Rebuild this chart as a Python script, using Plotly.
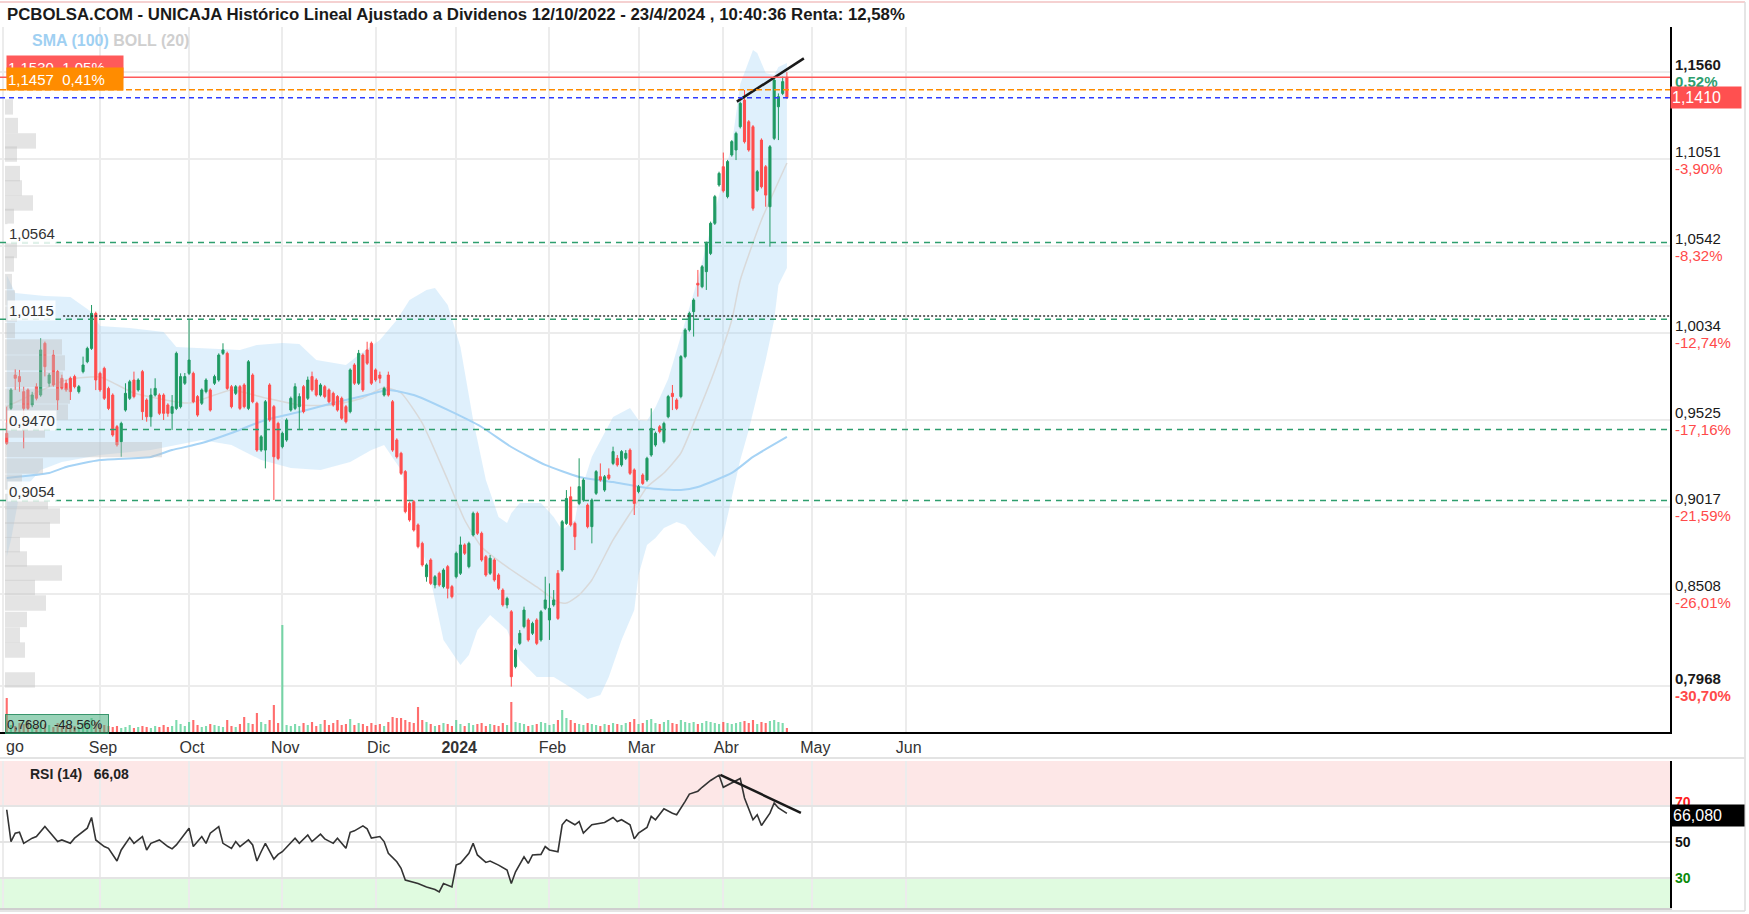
import numpy as np
import pandas as pd
import plotly.graph_objects as go

W, H = 1749, 914
FONT = "Liberation Sans, Arial, Helvetica, sans-serif"

# ---------------- trading calendar (BME) ----------------
holidays = ["2023-12-25", "2023-12-26", "2024-01-01", "2024-03-29", "2024-04-01", "2024-05-01"]
calendar = pd.bdate_range("2023-08-01", "2024-07-31")
calendar = calendar[~calendar.isin(pd.to_datetime(holidays))]

# ---------------- daily candles (2 Aug 2023 .. 23 Apr 2024) ----------------
opens = [
    .9447, .9593, .9788, .9779, .9691, .9701, .9613, .9720, .9671, .9974,
    .9740, .9905, .9808, .9769, .9740, .9769, .9779, .9691, .9808, .9866,
    .9944, 1.0149, .9798, .9827, .9710, .9671, .9486, .9398, .9583, .9652,
    .9759, .9701, .9808, .9642, .9544, .9671, .9671, .9671, .9613, .9564,
    .9593, .9603, .9740, .9798, .9798, .9662, .9623, .9691, .9701, .9740,
    .9759, .9915, .9915, .9720, .9681, .9720, .9730, .9593, .9788, .9623,
    .9349, .9349, .9730, .9603, .9505, .9369, .9408, .9583, .9593, .9603,
    .9720, .9652, .9779, .9759, .9671, .9720, .9701, .9681, .9662, .9652,
    .9603, .9574, .9847, .9740, .9905, .9935, .9974, .9818, .9788, .9671,
    .9788, .9632, .9408, .9330, .9223, .9037, .9047, .8911, .8803, .8608,
    .8706, .8560, .8628, .8550, .8667, .8550, .8608, .8628, .8794, .8667,
    .8852, .8979, .8862, .8725, .8628, .8706, .8618, .8530, .8443, .8403,
    .8082, .8218, .8316, .8355, .8277, .8355, .8238, .8423, .8355, .8443,
    .8628, .8647, .8920, .9076, .8920, .9037, .9057, .9027, .8901, .9096,
    .9193, .9115, .9203, .9271, .9301, .9262, .9301, .9349, .9233, .9106,
    .9203, .9174, .9320, .9379, .9486, .9398, .9544, .9681, .9642, .9662,
    .9896, 1.0052, 1.0159, 1.0325, 1.0305, 1.0393, 1.0500, 1.0676, 1.0900, 1.1007,
    1.0832, 1.1076, 1.1105, 1.1241, 1.1397, 1.1270, 1.1241, 1.0870, 1.1163, 1.1007,
    1.0773, 1.1173, 1.1358, 1.1436, 1.1530,
]
highs = [
    .9603, .9711, .9822, .9818, .9720, .9710, .9690, .9740, 1.0003, .9984,
    .9800, .9935, .9818, .9790, .9760, .9779, .9790, .9730, .9896, .9954,
    1.0198, 1.0159, .9808, .9837, .9720, .9681, .9496, .9515, .9740, .9760,
    .9808, .9769, .9818, .9652, .9710, .9769, .9681, .9681, .9623, .9671,
    .9925, .9798, .9800, 1.0110, .9808, .9671, .9710, .9769, .9710, .9790,
    .9915, .9974, .9925, .9730, .9730, .9730, .9740, .9876, .9798, .9632,
    .9437, .9642, .9740, .9613, .9515, .9457, .9535, .9662, .9740, .9681,
    .9730, .9779, .9808, .9769, .9740, .9730, .9710, .9691, .9671, .9662,
    .9613, .9827, .9857, .9935, .9915, .9983, .9984, .9827, .9808, .9720,
    .9808, .9642, .9418, .9339, .9232, .9047, .9057, .8920, .8813, .8686,
    .8716, .8618, .8638, .8657, .8677, .8560, .8755, .8843, .8803, .8813,
    .8989, .8989, .8872, .8735, .8735, .8716, .8628, .8540, .8491, .8413,
    .8189, .8296, .8433, .8365, .8345, .8365, .8413, .8608, .8569, .8530,
    .8647, .8940, .9115, .9135, .8930, .9301, .9184, .9037, .9066, .9232,
    .9271, .9203, .9242, .9369, .9320, .9349, .9349, .9359, .9242, .9145,
    .9213, .9310, .9593, .9457, .9496, .9515, .9672, .9730, .9652, .9905,
    1.0062, 1.0159, 1.0237, 1.0403, 1.0432, 1.0569, 1.0686, 1.0842, 1.0978, 1.1090,
    1.1047, 1.1163, 1.1212, 1.1388, 1.1456, 1.1280, 1.1251, 1.0988, 1.1173, 1.1017,
    1.1134, 1.1524, 1.1436, 1.1534, 1.1560,
]
lows = [
    .9379, .9583, .9700, .9690, .9359, .9583, .9600, .9640, .9661, .9780,
    .9720, .9720, .9583, .9700, .9690, .9642, .9710, .9680, .9798, .9857,
    .9935, .9700, .9690, .9642, .9583, .9427, .9369, .9310, .9574, .9642,
    .9652, .9691, .9525, .9515, .9486, .9662, .9554, .9525, .9544, .9466,
    .9583, .9593, .9730, .9788, .9623, .9544, .9613, .9681, .9574, .9730,
    .9749, .9905, .9701, .9593, .9671, .9583, .9593, .9583, .9623, .9339,
    .9339, .9242, .9515, .9057, .9290, .9359, .9398, .9574, .9583, .9466,
    .9564, .9642, .9691, .9662, .9662, .9652, .9623, .9603, .9574, .9525,
    .9505, .9564, .9730, .9730, .9690, .9847, .9730, .9749, .9740, .9662,
    .9662, .9339, .9300, .9203, .8979, .8930, .8872, .8774, .8667, .8579,
    .8559, .8540, .8550, .8540, .8481, .8481, .8598, .8618, .8735, .8657,
    .8843, .8852, .8696, .8608, .8618, .8579, .8530, .8433, .8423, .7965,
    .8072, .8208, .8306, .8228, .8267, .8208, .8228, .8413, .8238, .8433,
    .8355, .8637, .8911, .8901, .8764, .9027, .9047, .8891, .8803, .9086,
    .9164, .9105, .9174, .9261, .9252, .9252, .9291, .9203, .8969, .9096,
    .9145, .9164, .9310, .9369, .9447, .9388, .9535, .9583, .9583, .9652,
    .9886, 1.0042, 1.0013, 1.0247, 1.0296, 1.0286, 1.0490, 1.0666, 1.0890, 1.0856,
    1.0822, 1.1066, 1.1046, 1.1231, 1.1143, 1.1095, 1.0750, 1.0860, 1.0880, 1.0773,
    1.0539, 1.1163, 1.1163, 1.1426, 1.1405,
]
closes = [
    .9388, .9701, .9769, .9749, .9593, .9593, .9671, .9652, .9935, .9837,
    .9788, .9730, .9642, .9710, .9701, .9691, .9720, .9720, .9847, .9944,
    1.0149, .9759, .9701, .9652, .9593, .9437, .9379, .9505, .9681, .9749,
    .9662, .9759, .9574, .9544, .9671, .9710, .9564, .9564, .9564, .9603,
    .9915, .9779, .9779, .9876, .9632, .9554, .9701, .9759, .9583, .9779,
    .9905, .9935, .9710, .9603, .9720, .9593, .9603, .9866, .9632, .9349,
    .9427, .9632, .9525, .9310, .9300, .9447, .9525, .9652, .9720, .9662,
    .9574, .9759, .9701, .9671, .9730, .9662, .9632, .9613, .9583, .9535,
    .9515, .9818, .9740, .9915, .9701, .9857, .9740, .9759, .9769, .9710,
    .9671, .9349, .9310, .9213, .8989, .8940, .8881, .8784, .8677, .8677,
    .8569, .8608, .8560, .8647, .8540, .8491, .8745, .8794, .8745, .8803,
    .8979, .8862, .8706, .8618, .8716, .8589, .8540, .8443, .8481, .8023,
    .8179, .8277, .8413, .8238, .8335, .8218, .8403, .8472, .8423, .8472,
    .8364, .8930, .9066, .8911, .8842, .9135, .9174, .8901, .9057, .9223,
    .9174, .9193, .9184, .9340, .9262, .9340, .9330, .9213, .9037, .9135,
    .9154, .9301, .9476, .9447, .9457, .9505, .9662, .9662, .9593, .9896,
    1.0052, 1.0149, 1.0227, 1.0315, 1.0422, 1.0559, 1.0676, 1.0832, 1.0968, 1.0866,
    1.1037, 1.1154, 1.1202, 1.1378, 1.1153, 1.1105, 1.0764, 1.0978, 1.0890, 1.0841,
    1.1124, 1.1514, 1.1417, 1.1505, 1.1410,
]
volumes = [
    34, 7, 6, 9, 8, 12, 7, 6, 10, 8, 7, 5, 9, 6, 7, 8, 6, 5, 9, 11, 14, 10, 8, 7, 6,
    5, 6, 4, 5, 7, 4, 5, 6, 5, 4, 6, 5, 7, 5, 6,
    12, 8, 6, 10, 12, 7, 5, 6, 8, 7, 6, 5, 12, 6, 5, 8, 15, 9, 8, 19, 10, 8, 12, 27, 9,
    107, 7, 6, 8, 6, 9, 7, 10, 6, 8, 12, 7, 9, 12, 7, 8, 13, 7, 9, 8, 6, 9, 7, 8, 6,
    10, 15, 14, 14, 12, 10, 9, 25, 12, 10, 8, 6, 7, 9, 8, 6, 12, 8, 6, 9, 7, 8, 9, 6, 8,
    7, 6, 9, 7, 30, 10, 9, 8, 6, 7, 8, 10, 9, 7, 8, 12, 22, 14, 12, 9, 8, 7, 9, 8, 7,
    6, 8, 7, 9, 8, 7, 9, 10, 13, 8, 9, 12, 13, 9, 8, 10, 12, 9, 8, 12, 10, 9, 10, 8, 9,
    11, 10, 9, 8, 10, 9, 8, 9, 10, 11, 9, 12, 8, 10, 9, 11, 12, 10, 9, 4,
]
assert len(opens) == len(highs) == len(lows) == len(closes) == len(volumes) == 185
pos = list(range(1, len(closes) + 1))          # position in the trading calendar
dates = calendar[1:len(closes) + 1]

# ---------------- indicators ----------------
bb_upper_pos = [1, 3, 10, 16, 21, 23, 30, 38, 41, 56, 60, 66, 70, 74, 81, 84, 89, 93, 96, 100,
                102, 105, 108, 111, 114, 117, 119, 120, 122, 127, 130, 132, 135, 136, 139, 144, 148, 150, 152, 154,
                157, 161, 164, 168, 172, 174, 177, 178, 180, 182, 183, 185]
bb_upper_val = [1.0373, 1.0268, 1.0250, 1.0245, 1.0157, 1.0075, 1.0063, 1.0040, 0.9952, 0.9935,
                0.9964, 0.9976, 0.9970, 0.9876, 0.9847, 0.9905, 0.9993, 1.0110, 1.0227, 1.0286,
                1.0297, 1.0198, 0.9952, 0.9525, 0.9174, 0.8958, 0.8922, 0.8980, 0.9040, 0.9040,
                0.8958, 0.8880, 0.8940, 0.9074, 0.9310, 0.9543, 0.9595, 0.9525, 0.9520, 0.9600,
                0.9765, 1.0093, 1.0350, 1.0742, 1.1134, 1.1491, 1.1690, 1.1672, 1.1555, 1.1544,
                1.1590, 1.1614]
bb_lower_pos = [1, 2, 4, 9, 14, 23, 35, 47, 54, 61, 68, 75, 82, 87, 90, 94, 97, 101, 104, 108,
                110, 112, 115, 119, 122, 126, 130, 135, 138, 141, 143, 146, 149, 150, 152, 154, 156, 159, 161, 163,
                166, 168, 170, 172, 174, 176, 178, 180, 182, 183, 185]
bb_lower_val = [0.8723, 0.8823, 0.9092, 0.9232, 0.9279, 0.9320, 0.9349, 0.9408, 0.9379, 0.9291,
                0.9244, 0.9232, 0.9279, 0.9349, 0.9379, 0.9232, 0.8940, 0.8589, 0.8238, 0.8091,
                0.8150, 0.8296, 0.8384, 0.8296, 0.8121, 0.8021, 0.8021, 0.7945, 0.7892, 0.7916,
                0.8021, 0.8238, 0.8413, 0.8618, 0.8794, 0.8835, 0.8893, 0.8928, 0.8911, 0.8852,
                0.8776, 0.8723, 0.8852, 0.9074, 0.9291, 0.9466, 0.9671, 0.9876, 1.0110, 1.0315,
                1.0414]
bb_mid_pos = [1, 15, 23, 31, 44, 50, 54, 62, 70, 78, 85, 90, 94, 99, 105, 109, 113, 119, 126, 131,
              133, 136, 139, 144, 149, 152, 156, 160, 164, 168, 172, 174, 179, 185]
bb_mid_val = [0.9603, 0.9759, 0.9777, 0.9683, 0.9624, 0.9671, 0.9700, 0.9654, 0.9613, 0.9613,
              0.9654, 0.9715, 0.9683, 0.9507, 0.9174, 0.8940, 0.8782, 0.8665, 0.8548, 0.8460,
              0.8454, 0.8501, 0.8589, 0.8823, 0.9016, 0.9133, 0.9215, 0.9332, 0.9566, 0.9818,
              1.0110, 1.0344, 1.0695, 1.1029]
sma100_pos = [1, 11, 15, 23, 35, 40, 47, 54, 62, 70, 78, 86, 91, 97, 105, 113, 120, 128, 136, 144,
              152, 160, 164, 172, 177, 185]
sma100_val = [0.9186, 0.9215, 0.9250, 0.9291, 0.9309, 0.9349, 0.9390, 0.9449, 0.9525, 0.9572,
              0.9624, 0.9671, 0.9700, 0.9671, 0.9584, 0.9484, 0.9367, 0.9262, 0.9192, 0.9162,
              0.9127, 0.9115, 0.9133, 0.9215, 0.9309, 0.9426]

rsi_pos = [1, 2, 3, 4, 5, 7, 8, 10, 11, 13, 14, 16, 17, 18, 20, 21, 22, 24, 25, 27,
           28, 30, 31, 33, 34, 35, 37, 39, 40, 41, 43, 44, 45, 47, 48, 49, 51, 52, 54, 55,
           56, 58, 59, 60, 61, 62, 64, 65, 66, 68, 69, 70, 72, 73, 75, 76, 78, 79, 81, 82,
           83, 85, 86, 87, 89, 90, 91, 93, 94, 95, 98, 100, 102, 103, 104, 106, 107, 108, 110, 111,
           112, 114, 115, 117, 119, 120, 121, 123, 124, 125, 127, 128, 129, 131, 132, 133, 135, 136, 137, 139,
           141, 142, 144, 145, 146, 148, 149, 150, 152, 153, 154, 156, 158, 159, 161, 162, 164, 165, 167, 169,
           170, 172, 174, 175, 177, 178, 179, 181, 182, 183, 185]
rsi_val = [68.1, 50.3, 55.0, 55.5, 49.3, 52.2, 53.1, 58.7, 55.9, 50.3, 51.2, 49.3, 52.2, 54.0, 57.8, 63.8, 51.2, 47.5, 46.5, 39.4,
           45.6, 52.5, 49.3, 53.1, 45.6, 49.3, 51.2, 47.5, 46.2, 48.4, 55.0, 57.8, 47.5, 53.1, 49.3, 55.0, 58.7, 49.3, 46.5, 50.3,
           47.5, 51.2, 48.4, 39.4, 44.6, 49.3, 40.5, 43.1, 44.6, 49.3, 52.2, 49.3, 54.0, 50.3, 54.4, 51.8, 49.3, 52.2, 46.5, 55.5,
           56.3, 59.1, 57.4, 52.2, 53.1, 50.3, 43.7, 39.0, 35.3, 28.7, 26.8, 24.9, 23.4, 22.1, 26.8, 24.9, 37.1, 38.1, 43.7, 49.3,
           42.8, 38.6, 39.4, 37.1, 34.3, 26.8, 33.4, 41.8, 38.1, 42.8, 43.1, 47.5, 45.6, 44.6, 59.7, 62.5, 59.7, 61.5, 55.0, 59.7,
           60.6, 61.0, 63.8, 61.5, 62.5, 59.7, 51.8, 55.0, 58.2, 64.4, 62.5, 68.7, 66.2, 65.3, 72.8, 76.9, 78.5, 80.7, 84.5, 87.5,
           80.7, 83.1, 85.6, 74.7, 62.5, 65.3, 59.3, 66.2, 71.9, 69.1, 66.08]
assert len(rsi_pos) == len(rsi_val)

# volume-at-price profile (left edge)
profile_price = [1.1357, 1.1248, 1.1158, 1.1081, 1.0967, 1.0883, 1.0795, 1.0716, 1.0517, 1.0438,
                 1.0335, 1.0239, 1.0145, 1.0049, 0.9952, 0.9859, 0.9762, 0.9665, 0.9572, 0.9466,
                 0.9352, 0.9256, 0.9162, 0.9048, 0.8963, 0.8881, 0.8796, 0.8712, 0.8630, 0.8545,
                 0.8454, 0.8358, 0.8267, 0.8179, 0.8004]
profile_size = [8, 13, 31, 12, 15, 17, 28, 9, 12, 9, 7, 10, 12, 10, 57, 60, 58, 65, 63, 40,
                157, 38, 17, 43, 55, 45, 15, 22, 57, 30, 41, 22, 15, 20, 30]

# reference levels and drawn lines
support_levels = [1.0564, 1.0115, 0.9470, 0.9054]
support_labels = ["1,0564", "1,0115", "0,9470", "0,9054"]
resistance_dotted = 1.0134
stop_level, target_level, last_level = 1.1530, 1.1457, 1.1410
price_trend_x, price_trend_y = [173.2, 189.0], [1.1388, 1.1641]
rsi_trend_x, rsi_trend_y = [169.3, 188.3], [87.6, 66.4]

right_levels = [1.1560, 1.1051, 1.0542, 1.0034, 0.9525, 0.9017, 0.8508, 0.7968]
right_price_text = ["1,1560", "1,1051", "1,0542", "1,0034", "0,9525", "0,9017", "0,8508", "0,7968"]
right_pct_text = ["0,52%", "-3,90%", "-8,32%", "-12,74%", "-17,16%", "-21,59%", "-26,01%", "-30,70%"]
# first month ("Ago") is cut by the left edge in the original, only "go" shows
month_labels = ["", "Sep", "Oct", "Nov", "Dic", "<b>2024</b>", "Feb", "Mar", "Abr", "May", "Jun"]

month_start_pos = []
_seen = set()
for k, d in enumerate(calendar):
    if (d.year, d.month) not in _seen:
        _seen.add((d.year, d.month))
        month_start_pos.append(k)
month_start_pos = month_start_pos[:len(month_labels)]

# ---------------- geometry ----------------
def xp(px):
    return px / W

def yp(py):
    return 1 - py / H

PLOT_R = 1670
XD = PLOT_R / W
X0, DX = 2.5, 4.24
XR = [-X0 / DX, (PLOT_R - X0) / DX]
YM = [yp(732), yp(27)]
YR = [0.76994, 1.18246]
YRSI = [yp(908), yp(761)]

GREEN = "#1f9a63"
RED = "#ff4d4d"

fig = go.Figure()

# Bollinger band fill + lines (base subplot)
fig.add_trace(go.Scatter(x=bb_upper_pos, y=bb_upper_val, mode="lines", line=dict(width=0, color="rgba(0,0,0,0)"),
                         hoverinfo="skip", xaxis="x", yaxis="y"))
fig.add_trace(go.Scatter(x=bb_lower_pos, y=bb_lower_val, mode="lines", line=dict(width=0, color="rgba(0,0,0,0)"),
                         fill="tonexty", fillcolor="rgba(150,204,245,0.30)", hoverinfo="skip", xaxis="x", yaxis="y"))
fig.add_trace(go.Scatter(x=bb_mid_pos, y=bb_mid_val, mode="lines", line=dict(width=1.5, color="#d9d9d9", shape="spline", smoothing=0.5),
                         hoverinfo="skip", xaxis="x", yaxis="y"))
fig.add_trace(go.Scatter(x=sma100_pos, y=sma100_val, mode="lines", line=dict(width=2, color="#a6d3f5", shape="spline", smoothing=0.5),
                         hoverinfo="skip", xaxis="x", yaxis="y"))

# volume profile
fig.add_trace(go.Bar(x=profile_size, y=profile_price, orientation="h", width=0.0090, base=0,
                     marker=dict(color="rgba(190,190,190,0.42)", line=dict(width=0)),
                     hoverinfo="skip", xaxis="x5", yaxis="y"))

# volume bars
vol_colors = ["rgba(40,195,120,0.60)" if c >= o else "rgba(255,60,60,0.75)" for o, c in zip(opens, closes)]
fig.add_trace(go.Bar(x=pos, y=volumes, width=0.5, marker=dict(color=vol_colors, line=dict(width=0)),
                     hoverinfo="skip", xaxis="x", yaxis="y3"))

# candles
fig.add_trace(go.Candlestick(x=pos, open=opens, high=highs, low=lows, close=closes,
                             increasing=dict(line=dict(color=GREEN, width=1), fillcolor=GREEN),
                             decreasing=dict(line=dict(color=RED, width=1), fillcolor=RED),
                             whiskerwidth=0, xaxis="x", yaxis="y4", hovertext=[d.strftime("%d/%m/%Y") for d in dates]))
fig.add_trace(go.Scatter(x=price_trend_x, y=price_trend_y, mode="lines", line=dict(color="#1a1a1a", width=2.5),
                         hoverinfo="skip", xaxis="x", yaxis="y4"))

# RSI
fig.add_trace(go.Scatter(x=rsi_pos, y=rsi_val, mode="lines", line=dict(color="#333333", width=1.6),
                         hoverinfo="skip", xaxis="x2", yaxis="y2"))
fig.add_trace(go.Scatter(x=rsi_trend_x, y=rsi_trend_y, mode="lines", line=dict(color="#1a1a1a", width=2.5),
                         hoverinfo="skip", xaxis="x2", yaxis="y2"))

shapes = []
# RSI zones
shapes.append(dict(type="rect", xref="x2 domain", yref="y2", x0=0, x1=1, y0=70, y1=95.4,
                   fillcolor="#fde7e7", line=dict(width=0), layer="below"))
shapes.append(dict(type="rect", xref="x2 domain", yref="y2", x0=0, x1=1, y0=13.1, y1=30,
                   fillcolor="#e0fbe0", line=dict(width=0), layer="below"))
# level lines
for lv in support_levels:
    shapes.append(dict(type="line", xref="x domain", yref="y", x0=0, x1=1, y0=lv, y1=lv,
                       line=dict(color="#2e9e6e", width=1.5, dash="6px,5px"), layer="above"))
shapes.append(dict(type="line", xref="x", yref="y", x0=14.3, x1=XR[1], y0=resistance_dotted, y1=resistance_dotted,
                   line=dict(color="#333333", width=1.5, dash="2px,2px"), layer="above"))
shapes.append(dict(type="line", xref="x domain", yref="y", x0=0, x1=1, y0=stop_level, y1=stop_level,
                   line=dict(color="#ff5a5a", width=1.5), layer="above"))
shapes.append(dict(type="line", xref="x domain", yref="y", x0=0, x1=1, y0=target_level, y1=target_level,
                   line=dict(color="#ff8c00", width=1.5, dash="6px,3px"), layer="above"))
shapes.append(dict(type="line", xref="x domain", yref="y", x0=0, x1=1, y0=last_level, y1=last_level,
                   line=dict(color="#2f3cff", width=1.5, dash="5px,4px"), layer="above"))
# frame lines
shapes.append(dict(type="line", xref="paper", yref="paper", x0=0, x1=xp(1745), y0=yp(2), y1=yp(2),
                   line=dict(color="#f2c2c2", width=1.5)))
shapes.append(dict(type="line", xref="paper", yref="paper", x0=xp(1745), x1=xp(1745), y0=yp(2), y1=yp(911),
                   line=dict(color="#dddddd", width=1.5)))
shapes.append(dict(type="line", xref="paper", yref="paper", x0=0, x1=xp(1745), y0=yp(758), y1=yp(758),
                   line=dict(color="#e3e3e3", width=2)))
shapes.append(dict(type="line", xref="paper", yref="paper", x0=0, x1=xp(1745), y0=yp(911), y1=yp(911),
                   line=dict(color="#dddddd", width=1.5)))

ann = []
ann.append(dict(xref="paper", yref="paper", x=xp(5), y=yp(15), xanchor="left", yanchor="middle", showarrow=False,
                text="<b>PCBOLSA.COM - UNICAJA Histórico Lineal Ajustado a Dividenos 12/10/2022 - 23/4/2024 , 10:40:36 Renta: 12,58%</b>",
                font=dict(family=FONT, size=16.8, color="#1a1a1a")))
ann.append(dict(xref="paper", yref="paper", x=xp(30), y=yp(40), xanchor="left", yanchor="middle", showarrow=False,
                text="<b><span style='color:#9fd0f2'>SMA (100)</span> <span style='color:#cfcfcf'>BOLL (20)</span></b>",
                font=dict(family=FONT, size=16)))
# cut-off first month label
ann.append(dict(xref="paper", yref="paper", x=xp(4), y=yp(746), xanchor="left", yanchor="middle", showarrow=False,
                text="go", font=dict(family=FONT, size=16, color="#333333")))
# left colored labels
ann.append(dict(xref="paper", yref="paper", x=xp(6), y=yp(67), xanchor="left", yanchor="middle", showarrow=False,
                text="1,1530  1,05%", bgcolor="#ff5a5a", width=114, height=20, align="left",
                font=dict(family=FONT, size=15, color="white")))
ann.append(dict(xref="paper", yref="paper", x=xp(6), y=yp(79), xanchor="left", yanchor="middle", showarrow=False,
                text="1,1457  0,41%", bgcolor="#ff8c00", width=114, height=20, align="left",
                font=dict(family=FONT, size=15, color="white")))
for lv, tx in zip(support_levels, support_labels):
    ann.append(dict(xref="paper", yref="y", x=xp(7), y=lv, yshift=9, xanchor="left", yanchor="middle", showarrow=False,
                    text=tx, bgcolor="rgba(255,255,255,0.85)", font=dict(family=FONT, size=15, color="#333333")))
ann.append(dict(xref="paper", yref="paper", x=xp(5), y=yp(724), xanchor="left", yanchor="middle", showarrow=False,
                text="0,7680  -48,56%", bgcolor="rgba(70,175,125,0.55)", bordercolor="rgba(40,140,95,0.9)", borderwidth=1,
                width=100, height=16, align="left", font=dict(family=FONT, size=13, color="#222222")))
# right axis labels
for k, (lv, ptx, pct) in enumerate(zip(right_levels, right_price_text, right_pct_text)):
    bold = k in (0, len(right_levels) - 1)
    pcol = "#2e9e6e" if k == 0 else "#ff4a4a"
    ann.append(dict(xref="paper", yref="y", x=xp(1673), y=lv, yshift=8, xanchor="left", yanchor="middle", showarrow=False,
                    text=f"<b>{ptx}</b>" if bold else ptx, font=dict(family=FONT, size=15, color="#1a1a1a")))
    ann.append(dict(xref="paper", yref="y", x=xp(1673), y=lv, yshift=-9, xanchor="left", yanchor="middle", showarrow=False,
                    text=f"<b>{pct}</b>" if bold else pct, font=dict(family=FONT, size=15, color=pcol)))
ann.append(dict(xref="paper", yref="y", x=xp(1670), y=last_level, xanchor="left", yanchor="middle", showarrow=False,
                text="1,1410", bgcolor="#ff5050", width=68, height=19, align="left",
                font=dict(family=FONT, size=16, color="white")))
# RSI labels
ann.append(dict(xref="paper", yref="paper", x=xp(28), y=yp(774), xanchor="left", yanchor="middle", showarrow=False,
                text="<b>RSI (14)\u00a0\u00a0\u00a066,08</b>", font=dict(family=FONT, size=14, color="#222222")))
ann.append(dict(xref="paper", yref="y2", x=xp(1673), y=70, yshift=4, xanchor="left", yanchor="middle", showarrow=False,
                text="<b>70</b>", font=dict(family=FONT, size=14, color="#ff2020")))
ann.append(dict(xref="paper", yref="paper", x=xp(1671), y=yp(815), xanchor="left", yanchor="middle", showarrow=False,
                text="66,080", bgcolor="black", width=70, height=19, align="left",
                font=dict(family=FONT, size=16, color="white")))
ann.append(dict(xref="paper", yref="y2", x=xp(1673), y=50, xanchor="left", yanchor="middle", showarrow=False,
                text="<b>50</b>", font=dict(family=FONT, size=14, color="#111111")))
ann.append(dict(xref="paper", yref="y2", x=xp(1673), y=30, xanchor="left", yanchor="middle", showarrow=False,
                text="<b>30</b>", font=dict(family=FONT, size=14, color="#0a8a0a")))

grid_col = "#ececec"
fig.update_layout(
    width=W, height=H, autosize=False,
    margin=dict(l=0, r=0, t=0, b=0, pad=0),
    paper_bgcolor="white", plot_bgcolor="white", showlegend=False,
    xaxis=dict(domain=[0, XD], range=XR, tickvals=month_start_pos, ticktext=month_labels,
               showgrid=True, gridcolor=grid_col, gridwidth=2, showline=True, linecolor="black", linewidth=2,
               ticks="", tickfont=dict(family=FONT, size=16, color="#333333"), zeroline=False,
               rangeslider=dict(visible=False), anchor="y", ticklabelshift=3, automargin=False),
    yaxis=dict(domain=YM, range=YR, side="right", tickvals=right_levels, showticklabels=False,
               showgrid=True, gridcolor=grid_col, gridwidth=2, showline=True, linecolor="black", linewidth=2,
               zeroline=False, anchor="x", ticks="", automargin=False),
    yaxis3=dict(overlaying="y", range=[0, 705], visible=False, anchor="x"),
    yaxis4=dict(overlaying="y", range=YR, visible=False, anchor="x"),
    xaxis5=dict(overlaying="x", range=[-5, PLOT_R - 5], visible=False, anchor="y"),
    xaxis2=dict(domain=[0, XD], matches="x", anchor="y2", tickvals=month_start_pos, showticklabels=False,
                showgrid=True, gridcolor=grid_col, gridwidth=2, showline=True, linecolor="#cfcfcf", linewidth=2,
                zeroline=False, ticks="", rangeslider=dict(visible=False), automargin=False),
    yaxis2=dict(domain=YRSI, range=[13.1, 95.4], side="right", anchor="x2", tickvals=[30, 50, 70],
                showticklabels=False, showgrid=True, gridcolor="#e4e4e4", gridwidth=2, showline=True,
                linecolor="black", linewidth=2, zeroline=False, ticks="", automargin=False),
    shapes=shapes, annotations=ann,
)

fig.write_html("out.html",
               config={"displayModeBar": False, "responsive": False},
               post_script="document.body.style.margin='0px';document.body.style.overflow='hidden';")
